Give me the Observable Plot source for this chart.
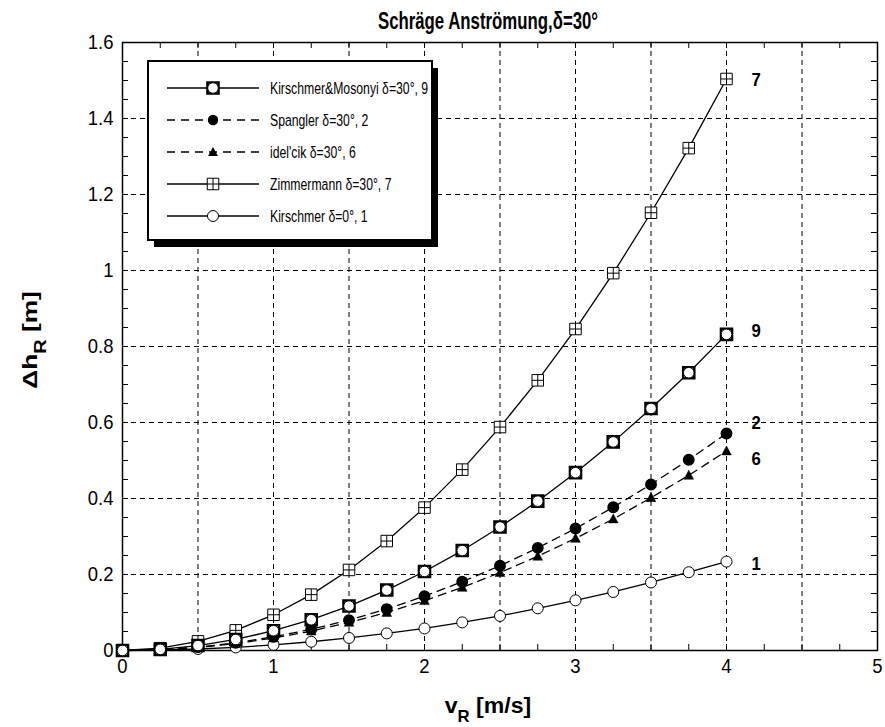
<!DOCTYPE html>
<html><head><meta charset="utf-8">
<script src="https://cdn.jsdelivr.net/npm/d3@7"></script>
<script src="https://cdn.jsdelivr.net/npm/@observablehq/plot@0.6"></script>
<style>
body{margin:0;background:#fff;}
#wrap{position:relative;width:885px;height:727px;}
</style></head><body><div id="wrap"></div>
<script>
// ---- data ----
const v = [0,0.25,0.5,0.75,1,1.25,1.5,1.75,2,2.25,2.5,2.75,3,3.25,3.5,3.75,4];
const kirschmerMosonyi = [0,0.003,0.013,0.029,0.052,0.081,0.117,0.159,0.208,0.263,0.325,0.393,0.468,0.549,0.637,0.731,0.832];
const spangler         = [0,0.002,0.009,0.020,0.036,0.056,0.080,0.109,0.143,0.181,0.223,0.270,0.321,0.377,0.437,0.502,0.571];
const idelcik          = [0,0.002,0.008,0.018,0.033,0.051,0.074,0.100,0.131,0.166,0.205,0.248,0.295,0.346,0.402,0.461,0.525];
const zimmermann       = [0,0.006,0.024,0.053,0.094,0.147,0.212,0.288,0.376,0.476,0.588,0.711,0.846,0.993,1.152,1.322,1.504];
const kirschmer        = [0,0.001,0.004,0.008,0.015,0.023,0.033,0.045,0.058,0.074,0.091,0.111,0.132,0.154,0.179,0.206,0.234];
const seriesNames  = ["Kirschmer&Mosonyi δ=30°, 9","Spangler δ=30°, 2","idel'cik δ=30°, 6","Zimmermann δ=30°, 7","Kirschmer δ=0°, 1"];
const seriesTags   = ["9","2","6","7","1"];
const xTicks = [0,1,2,3,4,5];
const yTicks = [0,0.2,0.4,0.6,0.8,1,1.2,1.4,1.6];
const titleText = "Schräge Anströmung,δ=30°";

// ---- build ----
const values = [kirschmerMosonyi, spangler, idelcik, zimmermann, kirschmer];
const rows = [];
values.forEach((arr, s) => arr.forEach((y, i) => rows.push({s, name: seriesNames[s], x: v[i], y})));
const bySeries = s => rows.filter(d => d.s === s);
const lastOf = s => [{tag: seriesTags[s], x: v[v.length-1], y: values[s][values[s].length-1]}];

const FONT = "Liberation Sans, Arial, Helvetica, sans-serif";
const W = 885, H = 727, ML = 122, MR = 8, MT = 42, MB = 77;
const PW = W - ML - MR, PH = H - MT - MB;

const boxPlus = {draw(ctx, size){const h = Math.sqrt(size)/2;
  ctx.moveTo(-h,-h); ctx.lineTo(h,-h); ctx.lineTo(h,h); ctx.lineTo(-h,h); ctx.closePath();
  ctx.moveTo(0,-h); ctx.lineTo(0,h); ctx.moveTo(-h,0); ctx.lineTo(h,0);}};
const tri = {draw(ctx, size){const h = Math.sqrt(size)/2;
  ctx.moveTo(0,-h*1.05); ctx.lineTo(h,h*0.8); ctx.lineTo(-h,h*0.8); ctx.closePath();}};

const minorX = d3.range(0, 5.001, 0.25);
const minorY = d3.range(0, 1.6001, 0.05);
const gridXv = d3.range(0.5, 4.9, 0.5);
const gridYv = [0.2,0.4,0.6,0.8,1,1.2,1.4];

const tagDy = [-3, -11, 8, 1, 2];
const dashes = [null, "8,6", "8,6", null, null];

const marks = [
  Plot.ruleX(gridXv, {stroke: "black", strokeDasharray: "5,4", strokeWidth: 1}),
  Plot.ruleY(gridYv, {stroke: "black", strokeDasharray: "5,4", strokeWidth: 1}),
  Plot.tickX(minorX, {x: d => d, insetTop: PH - 6, stroke: "black"}),
  Plot.tickX(minorX, {x: d => d, insetBottom: PH - 6, stroke: "black"}),
  Plot.tickY(minorY, {y: d => d, insetRight: PW - 6, stroke: "black"}),
  Plot.tickY(minorY, {y: d => d, insetLeft: PW - 6, stroke: "black"}),
  Plot.frame({stroke: "black", strokeWidth: 1.5}),
  Plot.axisX({ticks: xTicks, tickSize: 0, tickPadding: 8, fontSize: 21, label: null, tickFormat: d => String(d)}),
  Plot.axisY({ticks: yTicks, tickSize: 0, tickPadding: 9, fontSize: 21, label: null, tickFormat: d => String(+d.toFixed(2))}),
];
values.forEach((arr, s) => {
  marks.push(Plot.line(bySeries(s), {x: "x", y: "y", stroke: "black", strokeWidth: 1.3,
    strokeDasharray: dashes[s] || undefined}));
});
marks.push(
  Plot.dot(bySeries(4), {x: "x", y: "y", r: 5.5, fill: "white", stroke: "black", strokeWidth: 1}),
  Plot.dot(bySeries(3), {x: "x", y: "y", r: 6.5, symbol: boxPlus, fill: "white", stroke: "black", strokeWidth: 1}),
  Plot.dot(bySeries(2), {x: "x", y: "y", r: 5.5, symbol: tri, fill: "black", stroke: "black", strokeWidth: 0.5}),
  Plot.dot(bySeries(1), {x: "x", y: "y", r: 5.2, fill: "black", stroke: "black"}),
  Plot.dot(bySeries(0), {x: "x", y: "y", r: 6.2, symbol: "square", fill: "white", stroke: "black", strokeWidth: 2.6}),
  Plot.dot(bySeries(0), {x: "x", y: "y", r: 5.3, fill: "white", stroke: "black", strokeWidth: 1})
);
seriesTags.forEach((t, s) => {
  marks.push(Plot.text(lastOf(s), {x: "x", y: "y", text: "tag", textAnchor: "start", dx: 25, dy: tagDy[s],
    fontSize: 19, fontWeight: "bold", fill: "black"}));
});

const chart = Plot.plot({
  width: W, height: H, marginLeft: ML, marginRight: MR, marginTop: MT, marginBottom: MB,
  style: {fontFamily: FONT, color: "black", background: "white", overflow: "visible"},
  x: {domain: [0, 5]},
  y: {domain: [0, 1.6]},
  marks
});
document.getElementById("wrap").appendChild(chart);

const svg = d3.select(chart);

// narrow the tick labels horizontally
svg.selectAll("g[aria-label$='tick label'] text, g[aria-label='text'] text").each(function(){
  const t = this;
  let tr = t.getAttribute("transform");
  if (!tr) {
    const x = +(t.getAttribute("x") || 0), y = +(t.getAttribute("y") || 0);
    t.removeAttribute("x"); t.removeAttribute("y");
    tr = `translate(${x},${y})`;
  }
  t.setAttribute("transform", tr + " scale(0.88,1)");
});

// title
svg.append("text").attr("transform", "translate(488,29) scale(0.7,1)").attr("text-anchor", "middle")
  .attr("font-family", FONT).attr("font-weight", "bold").attr("font-size", 24).text(titleText);

// x label
const xl = svg.append("text").attr("transform", "translate(488,713) scale(1.05,1)").attr("text-anchor", "middle")
  .attr("font-family", FONT).attr("font-weight", "bold").attr("font-size", 22);
xl.append("tspan").text("v");
xl.append("tspan").attr("dy", 9).attr("font-size", 16).text("R");
xl.append("tspan").attr("dy", -9).text(" [m/s]");

// y label
const yl = svg.append("text").attr("transform", `translate(37,340) rotate(-90) scale(1.25,1)`).attr("text-anchor", "middle")
  .attr("font-family", FONT).attr("font-weight", "bold").attr("font-size", 21);
yl.append("tspan").text("Δh");
yl.append("tspan").attr("dy", 9).attr("font-size", 16).text("R");
yl.append("tspan").attr("dy", -9).text(" [m]");

// legend
const lg = svg.append("g");
const LX = 148, LY = 61, LW = 284, LH = 179;
lg.append("rect").attr("x", LX + 6).attr("y", LY + 7).attr("width", LW).attr("height", LH).attr("fill", "black");
lg.append("rect").attr("x", LX).attr("y", LY).attr("width", LW).attr("height", LH).attr("fill", "white").attr("stroke", "black").attr("stroke-width", 2);
const rowY = [88, 120, 152, 184, 216];
seriesNames.forEach((name, s) => {
  const y = rowY[s];
  lg.append("line").attr("x1", 167).attr("x2", 259).attr("y1", y).attr("y2", y).attr("stroke", "black").attr("stroke-width", 1.3)
    .attr("stroke-dasharray", dashes[s]);
  const g = lg.append("g").attr("transform", `translate(213,${y})`);
  if (s === 0) {
    g.append("path").attr("d", d3.symbol(d3.symbolSquare, 6.2*6.2*Math.PI)()).attr("fill", "white").attr("stroke", "black").attr("stroke-width", 2.6);
    g.append("circle").attr("r", 5.3).attr("fill", "white").attr("stroke", "black");
  } else if (s === 1) {
    g.append("circle").attr("r", 5.2).attr("fill", "black");
  } else if (s === 2) {
    g.append("path").attr("d", d3.symbol(tri, 5.5*5.5*Math.PI)()).attr("fill", "black");
  } else if (s === 3) {
    g.append("path").attr("d", d3.symbol(boxPlus, 6.5*6.5*Math.PI)()).attr("fill", "white").attr("stroke", "black");
  } else {
    g.append("circle").attr("r", 5.5).attr("fill", "white").attr("stroke", "black");
  }
  lg.append("text").attr("transform", `translate(270,${y}) scale(0.72,1)`).attr("dy", "0.36em").attr("text-anchor", "start")
    .attr("font-family", FONT).attr("font-size", 17).text(name);
});
</script></body></html>
